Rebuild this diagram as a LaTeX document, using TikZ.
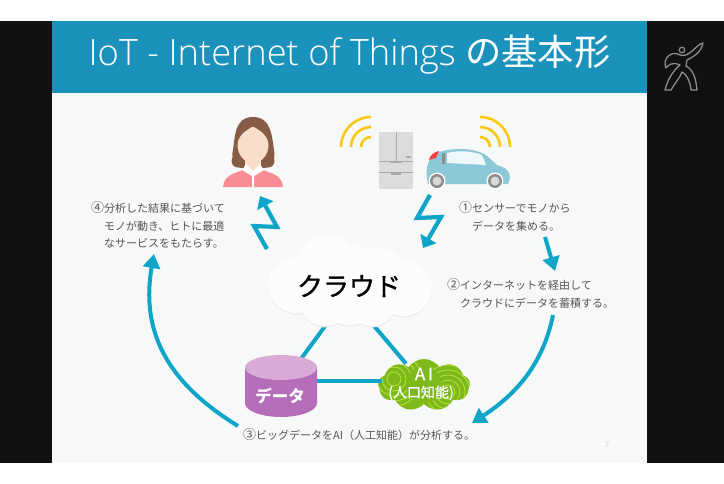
\documentclass[tikz,border=0pt]{standalone}
\usepackage{fontspec}
\setmainfont{Open Sans}[UprightFont=* Light]
\newfontfamily\cjk{Noto Sans CJK JP}
\newfontfamily\cjkmed{Noto Sans CJK JP}[FakeBold=1]
\usetikzlibrary{arrows.meta, positioning, shapes.geometric, shapes.symbols}
\definecolor{slidebg}{RGB}{247, 248, 248}
\definecolor{sideblack}{RGB}{17, 17, 17}
\definecolor{headblue}{RGB}{27, 146, 187}
\definecolor{flowblue}{RGB}{15, 165, 200}
\definecolor{textgray}{RGB}{85, 85, 85}
\definecolor{wifiyellow}{RGB}{250, 200, 20}
\definecolor{hairbrown}{RGB}{135, 92, 68}
\definecolor{skintone}{RGB}{248, 222, 200}
\definecolor{shirtpink}{RGB}{250, 140, 150}
\definecolor{fridgegray}{RGB}{220, 220, 220}
\definecolor{fridgeline}{RGB}{170, 170, 170}
\definecolor{carteal}{RGB}{140, 200, 215}
\definecolor{datapurple}{RGB}{180, 110, 185}
\definecolor{datatop}{RGB}{218, 170, 215}
\definecolor{aigreen}{RGB}{125, 185, 25}
\definecolor{ailine}{RGB}{185, 225, 60}
\newcommand{\stepmark}[1]{\makebox[13pt][l]{\fontsize{13}{13}\selectfont #1}}
\tikzset{
    flowline/.style={draw=flowblue, line width=4pt},
    flowarrow/.style={flowline, -{Triangle[length=14pt, width=17pt]}},
    boltarrow/.style={draw=flowblue, line width=4.2pt, miter limit=10, -{Triangle[length=11pt, width=18pt]}},
    captiontext/.style={anchor=north west, align=left, text=textgray, inner sep=0pt,
        font=\cjk\fontsize{11}{17.4}\selectfont},
    wifiarc/.style={draw=wifiyellow, line width=2.6pt},
    anchornode/.style={inner sep=0pt, minimum size=2pt},
    ainode/.style={cloud, cloud puffs=9, cloud puff arc=110, aspect=1.8, fill=aigreen,
        minimum width=92pt, minimum height=52pt, inner sep=0pt}
}
\begin{document}
\begin{tikzpicture}[x=1pt, y=-1pt]
    \useasboundingbox (0,0) rectangle (724,483);
    % frame of the slide
    \fill[sideblack] (0,21) rectangle (724,462.5);
    \fill[slidebg] (52,21) rectangle (647,462.5);
    \fill[headblue] (52,21) rectangle (647,93);
    \node[text=white, font=\fontsize{36.3}{37}\selectfont] (title) at (349.5,55) {IoT - Internet of Things {\cjk の基本形}};
    \node[text=black!25, font=\fontsize{8}{8}\selectfont] (pagenum) at (607,445) {7};
    % figure on the right
    \draw[black!45, line width=1.3pt, line join=round, fill=sideblack]
        (665,90) .. controls (668,78) and (674,70) .. (680,65) .. controls (671,61) and (668,66) .. (666,68)
        .. controls (662,58) and (672,50) .. (680,55) .. controls (690,58) and (695,45) .. (703,43)
        .. controls (701,52) and (695,56) .. (687,60) -- (686,66) .. controls (694,70) and (696,80) .. (697,90)
        -- (691,90) .. controls (690,80) and (686,74) .. (682,72) .. controls (680,78) and (674,84) .. (671,90) -- cycle;
    \draw[black!45, line width=1.2pt] (682,50) circle (2.8);
    % person
    \fill[hairbrown] (253,117) .. controls (272,117) and (272,138) .. (274,150)
        .. controls (276,158) and (272,168) .. (264,168) -- (242,168)
        .. controls (234,168) and (231,158) .. (233,150) .. controls (235,138) and (234,117) .. (253,117) -- cycle;
    \fill[hairbrown] (238,161) circle (6.5) (268,161) circle (6.5);
    \fill[shirtpink] (223,187) .. controls (224,176) and (232,174) .. (243,170) -- (263,170)
        .. controls (274,174) and (282,176) .. (283,187) -- cycle;
    \fill[skintone] (245,155) rectangle (261,172);
    \fill[white] (242,170) -- (246,164) -- (253,171) -- (260,164) -- (264,170) -- (254,176) -- (254,187) -- (252,187) -- (252,176) -- cycle;
    \fill[skintone] (253,145) ellipse (15.5 and 18);
    \fill[hairbrown] (237,144) .. controls (240,132) and (248,130) .. (253,126) .. controls (258,130) and (266,132) .. (269,144)
        .. controls (272,126) and (262,120) .. (253,120) .. controls (244,120) and (234,126) .. (237,144) -- cycle;
    % fridge
    \fill[fridgegray] (379,132) rectangle (413,189);
    \draw[fridgeline, line width=0.8pt] (396,132) -- (396,161) (379,161) -- (413,161) (379,172) -- (413,172);
    \draw[fridgeline, line width=1.2pt] (390,162) -- (402,162) (391,174) -- (401,174) (406,157) -- (411,157);
    % car
    \fill[carteal] (428,184) .. controls (425,172) and (427,160) .. (434,154) .. controls (450,147) and (475,147) .. (487,156)
        -- (497,165) .. controls (507,168) and (510,172) .. (510,178) -- (508,184) -- cycle;
    \fill[red!55!shirtpink] (429,160) .. controls (430,155) and (434,152) .. (439,151) -- (436,158) -- cycle;
    \fill[white!85!carteal] (447,153) .. controls (460,150) and (472,151) .. (482,155) -- (486,165) -- (447,163) -- cycle;
    \fill[black!45] (442,154) -- (445,153) -- (445,164) -- (442,164) -- cycle;
    \foreach \wheelx in {437,495} {
        \fill[white] (\wheelx,181) circle (8.5);
        \fill[black!45] (\wheelx,181) circle (7);
        \fill[white!85!black] (\wheelx,181) circle (4.5);
    }
    % wifi waves
    \foreach \arcr in {10,20,30} {
        \draw[wifiarc] (371,147) ++(180:\arcr) arc (180:270:\arcr);
        \draw[wifiarc] (480,147) ++(270:\arcr) arc (270:360:\arcr);
    }
    % cloud, data and AI
    \node[anchornode] (cloudmain) at (348,295) {};
    \node[anchornode] (datadb) at (281,386) {};
    \node[ainode, path picture={
        \foreach \ringr in {7,12,17,22,27} {
            \draw[ailine, line width=0.8pt] (24,7) circle (\ringr);
            \draw[ailine, line width=0.8pt] (-30,-6) circle (\ringr);
        }}] (ainet) at (424,385) {};
    \coordinate (dataside) at (300,381);
    \coordinate (aiside) at (382,381);
    \draw[flowline, shorten >=4pt] (cloudmain) -- (ainet);
    \draw[flowline] (cloudmain) -- (datadb);
    \draw[flowline] (dataside) -- (aiside);
    \foreach \cx/\cy/\cr in {327/268/33, 378/272/25, 296/285/28, 404/288/28, 325/300/26, 372/302/24, 350/285/40} {
        \fill[black!7] (\cx,\cy+1.5) circle (\cr);
    }
    \foreach \cx/\cy/\cr in {327/268/33, 378/272/25, 296/285/28, 404/288/28, 325/300/26, 372/302/24, 350/285/40} {
        \fill[white!60!slidebg] (\cx,\cy) circle (\cr);
    }
    \node[font=\cjkmed\fontsize{26}{26}\selectfont] (cloudtext) at (349,286) {クラウド};
    \fill[datapurple] (245,367.5) -- (245,403) arc (180:0:36 and 14) -- (317,367.5) -- cycle;
    \fill[datatop] (281,367.5) ellipse (36 and 12.5);
    \node[text=white, font=\cjk\bfseries\fontsize{16.5}{16.5}\selectfont] (datatext) at (280,396) {データ};
    \fill[aigreen] (ainet.center) circle (18);
    \node[text=white, font=\cjkmed\fontsize{17}{17}\selectfont] (aitext) at (424,374) {A\,I};
    \node[text=white, font=\cjkmed\fontsize{14}{14}\selectfont] (aisub) at (421,393) {(人口知能)};
    % captions
    \node[captiontext] (stepa) at (459,201.5) {\stepmark{①}センサーでモノから\\\hspace*{13pt}データを集める。};
    \node[captiontext] (stepb) at (447,278.5) {\stepmark{②}インターネットを経由して\\\hspace*{13pt}クラウドにデータを蓄積する。};
    \node[captiontext] (stepc) at (243,428.5) {\stepmark{③}ビッグデータをAI（人工知能）が分析する。};
    \node[captiontext] (stepd) at (91,201.5) {\stepmark{④}分析した結果に基づいて\\\hspace*{13pt}モノが動き、ヒトに最適\\\hspace*{13pt}なサービスをもたらす。};
    % arrows
    \coordinate (rightstart) at (553,315);
    \coordinate (righttip) at (472,423);
    \coordinate (leftstart) at (238,426);
    \coordinate (lefttip) at (154,254);
    \coordinate (smallstart) at (545,237);
    \coordinate (smalltip) at (555,271);
    \draw[flowarrow] (rightstart) .. controls (543,365) and (515,395) .. (righttip);
    \draw[flowarrow] (leftstart) .. controls (183,392) and (138,345) .. (lefttip);
    \draw[flowarrow] (smallstart) -- (smalltip);
    \coordinate (boltastart) at (430,195);
    \coordinate (boltatip) at (423,248);
    \coordinate (boltbstart) at (267,249);
    \coordinate (boltbtip) at (260,196);
    \draw[boltarrow] (boltastart) -- (417,218) -- (441,217) -- (boltatip);
    \draw[boltarrow] (boltbstart) -- (254,226) -- (277,227) -- (boltbtip);
\end{tikzpicture}
\end{document}
